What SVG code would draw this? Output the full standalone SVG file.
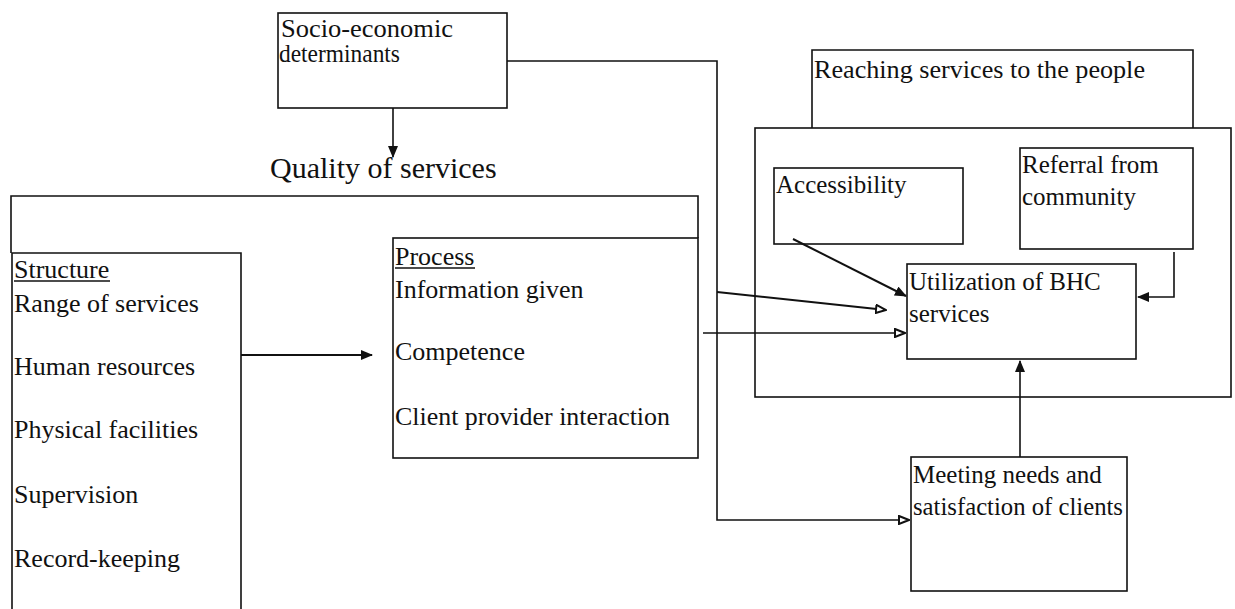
<svg xmlns="http://www.w3.org/2000/svg" width="1235" height="609" viewBox="0 0 1235 609">
<style>
  .box{fill:none;stroke:#111;stroke-width:1.6}
  .frame{fill:none;stroke:#111;stroke-width:1.6}
  .t{font-family:"Liberation Serif","Times New Roman",serif;font-size:25px;fill:#111}
  .t26{font-family:"Liberation Serif","Times New Roman",serif;font-size:26px;fill:#111}
  .big{font-family:"Liberation Serif","Times New Roman",serif;font-size:30px;fill:#111}
  .c{fill:none;stroke:#111;stroke-width:1.6}
  .cs{fill:none;stroke:#111;stroke-width:2}
</style>
<defs>
  <marker id="filled" viewBox="0 0 12 10" refX="11" refY="5" markerWidth="12" markerHeight="10" markerUnits="userSpaceOnUse" orient="auto">
    <path d="M0,0 L12,5 L0,10 Z" fill="#111"/>
  </marker>
  <marker id="open" viewBox="0 0 12 10" refX="11" refY="5" markerWidth="12" markerHeight="10" markerUnits="userSpaceOnUse" orient="auto">
    <path d="M1,1 L11,5 L1,9 Z" fill="#fff" stroke="#111" stroke-width="2"/>
  </marker>
</defs>

<g id="socio">
  <rect class="box" x="278" y="13" width="229" height="95"/>
  <text class="t" x="281" y="37" textLength="172" lengthAdjust="spacingAndGlyphs">Socio-economic</text>
  <text class="t" x="279" y="62" textLength="121" lengthAdjust="spacingAndGlyphs">determinants</text>
</g>

<g id="quality">
  <text class="big" x="270" y="178">Quality of services</text>
  <path class="frame" d="M11,253 L11,196 L698,196 L698,238"/>
</g>

<g id="structure">
  <path class="box" d="M12,615 L12,253 L241,253 L241,615"/>
  <text class="t26" x="14" y="278">Structure</text>
  <line x1="14" y1="281" x2="110" y2="281" stroke="#111" stroke-width="1.4"/>
  <text class="t26" x="14" y="312">Range of services</text>
  <text class="t26" x="14" y="375">Human resources</text>
  <text class="t26" x="14" y="438">Physical facilities</text>
  <text class="t26" x="14" y="503">Supervision</text>
  <text class="t26" x="14" y="567">Record-keeping</text>
</g>

<g id="process">
  <rect class="box" x="393" y="238" width="305" height="220"/>
  <text class="t26" x="395" y="265">Process</text>
  <line x1="395" y1="268" x2="475" y2="268" stroke="#111" stroke-width="1.4"/>
  <text class="t26" x="395" y="298">Information given</text>
  <text class="t26" x="395" y="360">Competence</text>
  <text class="t26" x="395" y="425" textLength="275" lengthAdjust="spacingAndGlyphs">Client provider interaction</text>
</g>

<g id="reaching">
  <path class="frame" d="M812,128 L812,50 L1193,50 L1193,128"/>
  <text class="t" x="814" y="78" textLength="331" lengthAdjust="spacingAndGlyphs">Reaching services to the people</text>
  <rect class="frame" x="755" y="128" width="476" height="269"/>
</g>

<g id="accessibility">
  <rect class="box" x="774" y="168" width="189" height="76"/>
  <text class="t" x="776" y="193">Accessibility</text>
</g>

<g id="referral">
  <rect class="box" x="1020" y="148" width="173" height="101"/>
  <text class="t" x="1022" y="173">Referral from</text>
  <text class="t" x="1022" y="205">community</text>
</g>

<g id="utilization">
  <rect class="box" x="907" y="264" width="229" height="95"/>
  <text class="t" x="909" y="290">Utilization of BHC</text>
  <text class="t" x="909" y="322">services</text>
</g>

<g id="meeting">
  <rect class="box" x="911" y="457" width="216" height="134"/>
  <text class="t" x="913" y="483">Meeting needs and</text>
  <text class="t" x="913" y="515" textLength="210" lengthAdjust="spacingAndGlyphs">satisfaction of clients</text>
</g>

<g id="connectors">
  <line class="c" x1="393" y1="108" x2="393" y2="157" marker-end="url(#filled)"/>
  <line class="cs" x1="241" y1="355" x2="372" y2="355" marker-end="url(#filled)"/>
  <polyline class="c" points="507,61 717,61 717,520 909,520" marker-end="url(#open)"/>
  <line class="cs" x1="717" y1="292" x2="886" y2="310" marker-end="url(#open)"/>
  <line class="c" x1="703" y1="333" x2="905" y2="333" marker-end="url(#open)"/>
  <line class="cs" x1="793" y1="239" x2="906" y2="296" marker-end="url(#filled)"/>
  <polyline class="c" points="1174,252 1174,297 1138,297" marker-end="url(#filled)"/>
  <line class="c" x1="1020" y1="457" x2="1020" y2="361" marker-end="url(#filled)"/>
</g>
</svg>
